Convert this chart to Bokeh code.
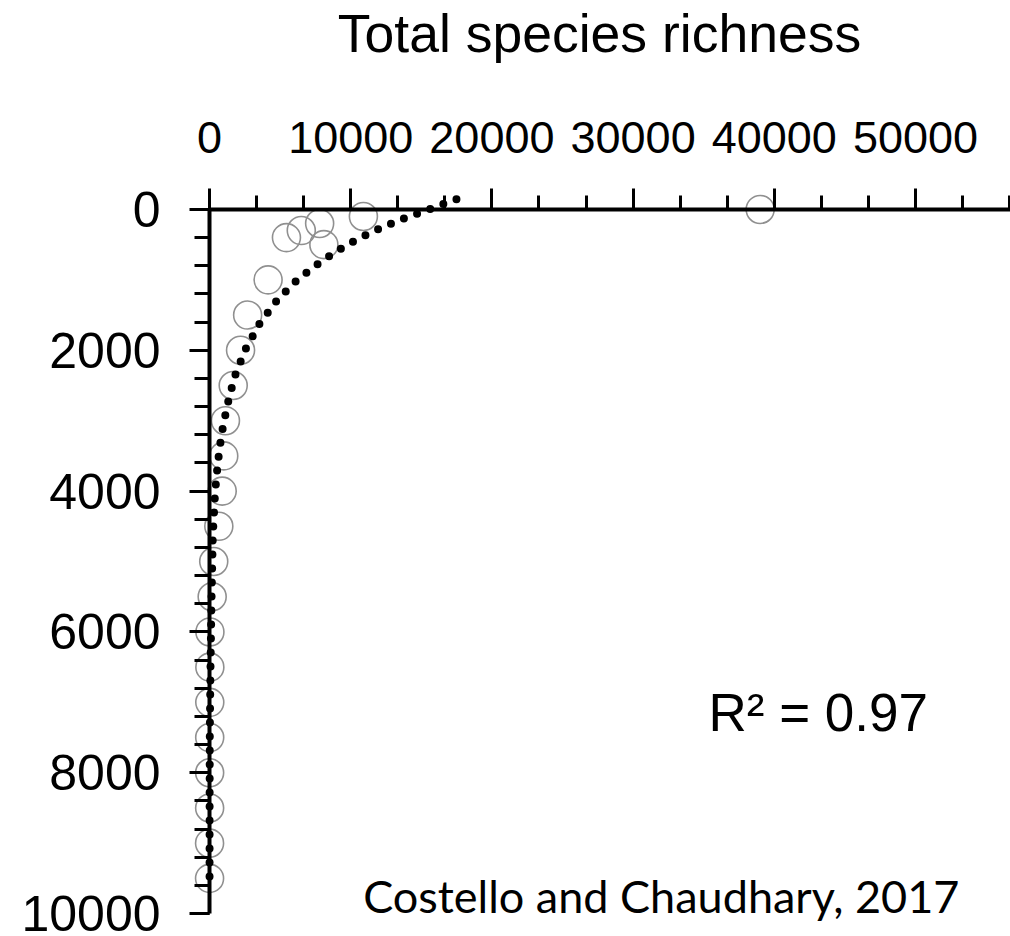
from bokeh.plotting import figure
from bokeh.models import (Range1d, SingleIntervalTicker, Label, ColumnDataSource,
                          BasicTickFormatter, CustomJSTickFormatter, LinearAxis)
from bokeh.embed import file_html
from bokeh.resources import INLINE

# ---- data ----
# observed total species richness per depth bin (open circles)
obs_depth = [0, 100, 200, 300, 400, 500, 1000, 1500, 2000, 2500, 3000, 3500, 4000,
             4500, 5000, 5500, 6000, 6500, 7000, 7500, 8000, 8500, 9000, 9500]
obs_richness = [39000, 10900, 7800, 6500, 5450, 8100, 4150, 2700, 2200, 1680, 1130, 1010, 900,
                660, 300, 190, 30, 25, 20, 15, 10, 10, 5, 5]

# fitted curve (dotted line)
fit_depth = [-146, 0, 146, 312, 500, 732, 987, 1285, 1625, 1987, 2380, 2790, 3197,
             3598, 4008, 4622, 5567, 6516, 7450, 8400, 9600]
fit_richness = [17490, 15530, 13530, 11590, 9750, 7950, 6280, 4800, 3540, 2550, 1770, 1250, 850,
                590, 400, 235, 140, 70, 21, 8, 3]

title_text = "Total species richness"
r2_text = "R\u00b2 = 0.97"
source_text = "Costello and Chaudhary, 2017"

# ---- figure ----
X0, X1 = -1487, 56728            # frame extends a little left of richness 0
Y_TOP, Y_BOTTOM = -311.6, 10297  # frame extends a little above depth 0
DEPTH_MAX = 10000

p = figure(width=1010, height=936,
           x_range=Range1d(X0, X1), y_range=Range1d(Y_BOTTOM, Y_TOP),
           x_axis_location="above", output_backend="svg", toolbar_location=None,
           min_border_left=188, min_border_right=0, min_border_top=185, min_border_bottom=2)

p.outline_line_color = None
p.xgrid.visible = False
p.ygrid.visible = False
p.background_fill_color = "white"
p.border_fill_color = "white"

blank = CustomJSTickFormatter(code="return ''")

# axes drawn through the origin: line and ticks only
xa = p.xaxis[0]
xa.ticker = SingleIntervalTicker(interval=10000, num_minor_ticks=3)
xa.fixed_location = 0
xa.bounds = (0, X1)
xa.major_tick_out = 21
xa.minor_tick_out = 14
ya = p.yaxis[0]
ya.ticker = SingleIntervalTicker(interval=2000, num_minor_ticks=5)
ya.fixed_location = 0
ya.bounds = (0, DEPTH_MAX)
ya.major_tick_out = 20
ya.minor_tick_out = 15

for ax in (xa, ya):
    ax.formatter = blank
    ax.major_label_text_font_size = "1px"
    ax.major_label_text_color = None
    ax.major_label_standoff = 0
    ax.axis_line_color = "black"
    ax.axis_line_width = 4
    ax.major_tick_line_color = "black"
    ax.minor_tick_line_color = "black"
    ax.major_tick_line_width = 3
    ax.minor_tick_line_width = 3
    ax.major_tick_in = 0
    ax.minor_tick_in = 0

# label axes (tick labels and axis title)
xl = LinearAxis(ticker=SingleIntervalTicker(interval=10000, num_minor_ticks=0),
                formatter=BasicTickFormatter(use_scientific=False), bounds=(0, X1))
yl = LinearAxis(ticker=SingleIntervalTicker(interval=2000, num_minor_ticks=0),
                formatter=BasicTickFormatter(use_scientific=False), bounds=(0, DEPTH_MAX))
for ax in (xl, yl):
    ax.axis_line_color = None
    ax.major_tick_line_color = None
    ax.minor_tick_line_color = None
    ax.major_tick_out = 0
    ax.major_tick_in = 0
    ax.minor_tick_out = 0
    ax.minor_tick_in = 0
    ax.major_label_text_color = "black"
    ax.major_label_text_font = "Liberation Sans"

xl.major_label_text_font_size = "45px"
xl.major_label_standoff = 35
xl.axis_label = title_text
xl.axis_label_text_font = "Liberation Sans"
xl.axis_label_text_font_size = "53.5px"
xl.axis_label_text_font_style = "normal"
xl.axis_label_text_color = "black"
xl.axis_label_standoff = 56

yl.major_label_text_font_size = "50px"
yl.major_label_standoff = 28

p.add_layout(xl, "above")
p.add_layout(yl, "left")

obs = ColumnDataSource(dict(richness=obs_richness, depth=obs_depth))
fit = ColumnDataSource(dict(richness=fit_richness, depth=fit_depth))

p.scatter(x="richness", y="depth", source=obs, marker="circle", size=28,
          fill_color=None, line_color="#909090", line_width=1.6)
p.line(x="richness", y="depth", source=fit, line_color="black", line_width=8,
       line_dash="0 14", line_cap="round", line_join="round")

p.add_layout(Label(x=35340, y=7139, text=r2_text, text_font="Liberation Sans",
                   text_font_size="53px", text_color="black",
                   text_align="left", text_baseline="alphabetic"))
p.add_layout(Label(x=10885, y=9745, text=source_text, text_font="Lato",
                   text_font_size="45px", text_color="black",
                   text_align="left", text_baseline="alphabetic"))

open("out.html", "w").write(file_html(p, INLINE))
